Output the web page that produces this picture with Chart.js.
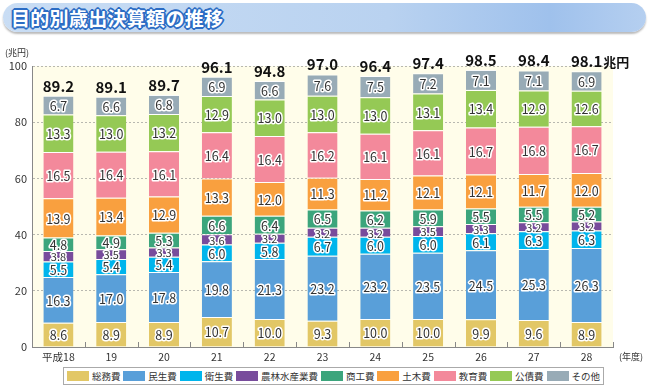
<!DOCTYPE html>
<html lang="ja">
<head>
<meta charset="utf-8">
<script src="https://cdn.jsdelivr.net/npm/chart.js@4"></script>
<style>
  body { margin: 0; background: #fff; font-family: "Noto Sans CJK JP", sans-serif; }
  #wrap { position: relative; width: 650px; height: 387px; overflow: hidden; }
  #banner {
    position: absolute; left: 3px; top: 3px; width: 643px; height: 29px;
    border-radius: 15px;
    background: linear-gradient(90deg, #c9ddf4 0%, #b9d2f0 60%, #9fc1ec 85%, #b5cff0 100%);
    box-shadow: 0 2px 2px #bbb;
  }
  #title {
    position: absolute; left: 11px; top: 4px; font-size: 19px; font-weight: bold; color: #fff;
    letter-spacing: 0.3px;
    text-shadow: 1px 0 #2b6cc4, -1px 0 #2b6cc4, 0 1px #2b6cc4, 0 -1px #2b6cc4,
      1px 1px #2b6cc4, -1px -1px #2b6cc4, 1px -1px #2b6cc4, -1px 1px #2b6cc4,
      2px 0 #2b6cc4, -2px 0 #2b6cc4, 0 2px #2b6cc4, 0 -2px #2b6cc4;
  }
  canvas { position: absolute; left: 0; top: 0; }
  .unit { position: absolute; font-size: 9px; color: #333; }
  #legend {
    position: absolute; left: 63px; top: 367px; width: 539px; height: 16px;
    border: 1px solid #aaa; background: #fff;
    display: flex; align-items: center; justify-content: space-evenly;
    font-size: 9.5px; color: #333;
  }
  #legend .item { display: flex; align-items: center; }
  #legend .sw { width: 22px; height: 10px; margin-right: 3px; }
</style>
</head>
<body>
<div id="wrap">
  <div id="banner"></div>
  <div id="title">目的別歳出決算額の推移</div>
  <canvas id="chart" width="650" height="387"></canvas>
  <div class="unit" style="left:5px; top:46px;">(兆円)</div>
  <div class="unit" style="left:619px; top:350px;">(年度)</div>
  <div id="legend"></div>
</div>
<script>
// Data (兆円)
const years = ['平成18', '19', '20', '21', '22', '23', '24', '25', '26', '27', '28'];
const seriesNames = ['総務費', '民生費', '衛生費', '農林水産業費', '商工費', '土木費', '教育費', '公債費', 'その他'];
const soumu = [8.6, 8.9, 8.9, 10.7, 10.0, 9.3, 10.0, 10.0, 9.9, 9.6, 8.9];
const minsei = [16.3, 17.0, 17.8, 19.8, 21.3, 23.2, 23.2, 23.5, 24.5, 25.3, 26.3];
const eisei = [5.5, 5.4, 5.4, 6.0, 5.8, 6.7, 6.0, 6.0, 6.1, 6.3, 6.3];
const nourin = [3.8, 3.5, 3.3, 3.6, 3.2, 3.2, 3.2, 3.5, 3.3, 3.2, 3.2];
const shoukou = [4.8, 4.9, 5.3, 6.6, 6.4, 6.5, 6.2, 5.9, 5.5, 5.5, 5.2];
const doboku = [13.9, 13.4, 12.9, 13.3, 12.0, 11.3, 11.2, 12.1, 12.1, 11.7, 12.0];
const kyouiku = [16.5, 16.4, 16.1, 16.4, 16.4, 16.2, 16.1, 16.1, 16.7, 16.8, 16.7];
const kousai = [13.3, 13.0, 13.2, 12.9, 13.0, 13.0, 13.0, 13.1, 13.4, 12.9, 12.6];
const sonota = [6.7, 6.6, 6.8, 6.9, 6.6, 7.6, 7.5, 7.2, 7.1, 7.1, 6.9];
const totals = [89.2, 89.1, 89.7, 96.1, 94.8, 97.0, 96.4, 97.4, 98.5, 98.4, 98.1];
const yTicks = [0, 20, 40, 60, 80, 100];

const colors = ['#e2c766', '#599fd9', '#00b5ec', '#784c9c', '#3ca57c', '#f9a03f', '#f3899b', '#95c955', '#98abb6'];
const values = [soumu, minsei, eisei, nourin, shoukou, doboku, kyouiku, kousai, sonota];

const FONT = '"Noto Sans CJK JP", sans-serif';

// legend
const legend = document.getElementById('legend');
seriesNames.forEach((name, i) => {
    const item = document.createElement('div');
    item.className = 'item';
    item.innerHTML = '<span class="sw" style="background:' + colors[i] + '"></span><span>' + name + '</span>';
    legend.appendChild(item);
});

// cream plot background, tick marks and labels
const decor = {
    id: 'decor',
    beforeDraw(chart) {
        const a = chart.chartArea;
        const ctx = chart.ctx;
        ctx.save();
        ctx.fillStyle = '#fffdea';
        ctx.fillRect(a.left, a.top, a.right - a.left, a.bottom - a.top);
        ctx.restore();
    },
    afterDatasetsDraw(chart) {
        const ctx = chart.ctx;
        const a = chart.chartArea;
        const xs = chart.scales.x;
        ctx.save();
        // small ticks between years
        ctx.strokeStyle = '#888';
        ctx.lineWidth = 1;
        for (let i = 0; i < years.length; i++) {
            const x = Math.round((xs.getPixelForValue(i) + xs.getPixelForValue(i + 1)) / 2) + 0.5;
            ctx.beginPath();
            ctx.moveTo(x, a.bottom - 5);
            ctx.lineTo(x, a.bottom);
            ctx.stroke();
        }
        // segment values
        ctx.textAlign = 'center';
        ctx.textBaseline = 'middle';
        ctx.lineJoin = 'round';
        chart.data.datasets.forEach((ds, di) => {
            const meta = chart.getDatasetMeta(di);
            meta.data.forEach((bar, i) => {
                const txt = ds.data[i].toFixed(1);
                const y = (bar.y + bar.base) / 2 + 1;
                ctx.font = (di === 3 ? '11px ' : '12.5px ') + FONT;
                ctx.strokeStyle = '#fff';
                ctx.lineWidth = 3;
                ctx.strokeText(txt, bar.x, y);
                ctx.fillStyle = '#333';
                ctx.fillText(txt, bar.x, y);
            });
        });
        // totals
        const top = chart.getDatasetMeta(chart.data.datasets.length - 1);
        ctx.textBaseline = 'alphabetic';
        ctx.fillStyle = '#111';
        top.data.forEach((bar, i) => {
            const txt = totals[i].toFixed(1);
            ctx.font = 'bold 15px ' + FONT;
            ctx.textAlign = 'center';
            ctx.fillText(txt, bar.x, bar.y - 4);
            if (i === totals.length - 1) {
                const w = ctx.measureText(txt).width;
                ctx.font = 'bold 13px ' + FONT;
                ctx.textAlign = 'left';
                ctx.fillText('兆円', bar.x + w / 2 + 1, bar.y - 4);
            }
        });
        ctx.restore();
    }
};

new Chart(document.getElementById('chart'), {
    type: 'bar',
    data: {
        labels: years,
        datasets: seriesNames.map((name, i) => ({
            label: name,
            data: values[i],
            backgroundColor: colors[i],
            borderColor: 'rgba(255,255,255,0.9)',
            borderWidth: { top: 1, bottom: 0, left: 0, right: 0 },
            borderSkipped: false,
            barPercentage: 0.57,
            categoryPercentage: 1
        }))
    },
    options: {
        responsive: false,
        animation: false,
        layout: { padding: { top: 66, right: 37, bottom: 22, left: 0 } },
        plugins: { legend: { display: false }, tooltip: { enabled: false } },
        scales: {
            x: {
                stacked: true,
                grid: { display: false },
                border: { color: '#888' },
                ticks: { color: '#333', font: { family: FONT, size: 10.5, lineHeight: 1 }, padding: -3, maxRotation: 0 },
                afterFit: s => { s.height = 18; }
            },
            y: {
                stacked: true,
                min: 0,
                max: 100,
                afterBuildTicks: s => { s.ticks = yTicks.map(v => ({ value: v })); },
                grid: {
                    color: ctx => ctx.tick && ctx.tick.value === 0 ? 'rgba(0,0,0,0)' : '#b8b8b0',
                    drawTicks: false
                },
                border: { color: '#888', dash: [2, 2] },
                ticks: { color: '#333', font: { family: FONT, size: 11 }, padding: 5 },
                afterFit: s => { s.width = 32; }
            }
        }
    },
    plugins: [decor]
});
</script>
</body>
</html>
